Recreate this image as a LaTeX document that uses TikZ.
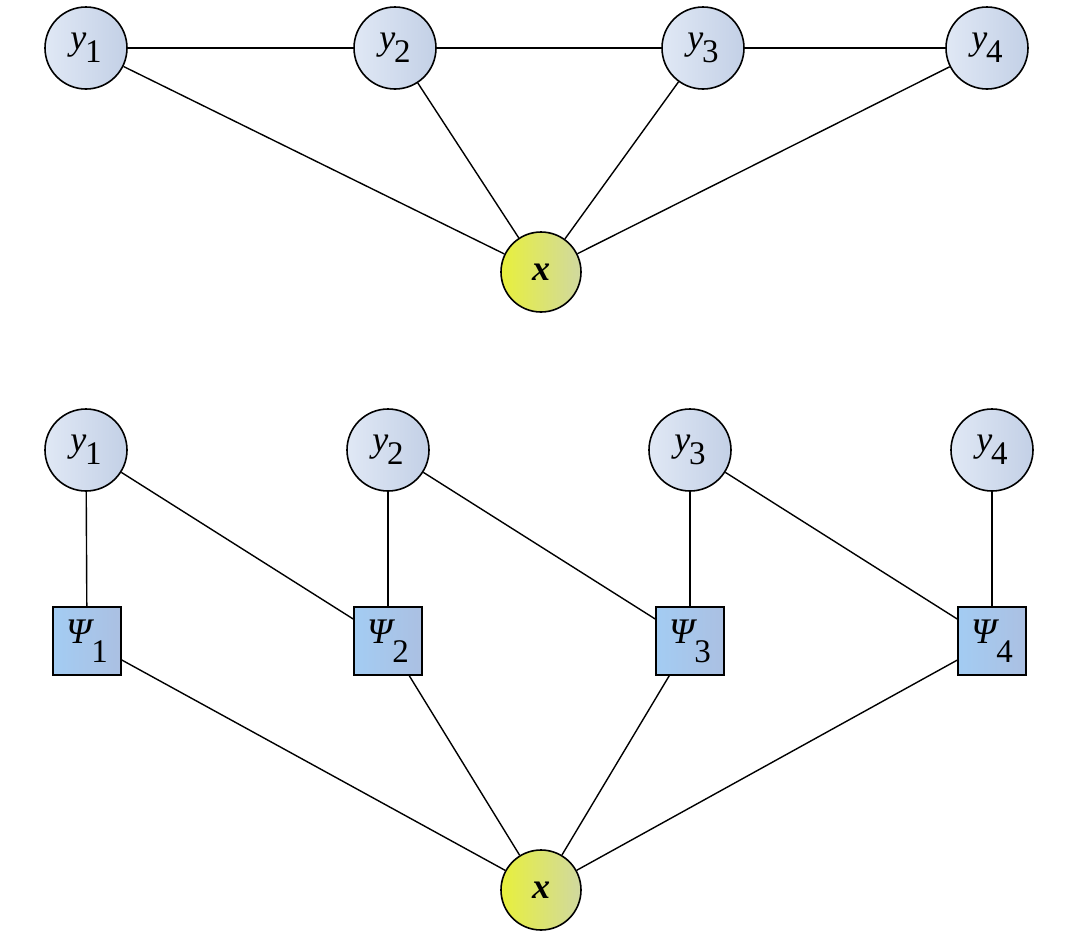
\documentclass[tikz,border=0pt]{standalone}
\usepackage{fontspec}
\setmainfont{Liberation Serif}
\definecolor{cL}{HTML}{E0E8F5}
\definecolor{cR}{HTML}{C3D0E6}
\definecolor{bL}{HTML}{A3CCF3}
\definecolor{bR}{HTML}{ABC0E2}
\definecolor{yL}{HTML}{E8F03C}
\definecolor{yR}{HTML}{D0D8A0}
\newcommand{\yv}[1]{{\fontsize{36}{36}\selectfont\itshape y}\kern-1pt\raisebox{-13pt}{\fontsize{33}{33}\selectfont #1}}
\newcommand{\psiv}[1]{{\fontsize{36}{36}\selectfont\itshape Ψ}\kern0pt\raisebox{-19pt}{\fontsize{33}{33}\selectfont #1}}
\newcommand{\xv}{{\fontsize{36}{36}\selectfont\bfseries\itshape x}}
\begin{document}
\begin{tikzpicture}[x=1pt,y=-1pt,
  var/.style={circle,draw=black,line width=1.6pt,minimum size=82pt,inner sep=0pt,left color=cL,right color=cR},
  obs/.style={circle,draw=black,line width=1.6pt,minimum size=80pt,inner sep=0pt,left color=yL,right color=yR},
  fac/.style={rectangle,draw=black,line width=1.6pt,minimum size=68pt,inner sep=0pt,left color=bL,right color=bR},
  edge/.style={line width=1.4pt,draw=black}]
\useasboundingbox (0,0) rectangle (1080,938);
% top graph
\node[var] (a1) at (86,48) {\yv{1}};
\node[var] (a2) at (395,48) {\yv{2}};
\node[var] (a3) at (703,48) {\yv{3}};
\node[var] (a4) at (987,48) {\yv{4}};
\node[obs] (ax) at (541,272) {\xv};
\draw[edge] (a1) -- (a2);
\draw[edge] (a2) -- (a3);
\draw[edge] (a3) -- (a4);
\foreach \i in {1,2,3,4} \draw[edge] (a\i) -- (ax);
% bottom graph
\node[var] (b1) at (86,450) {\yv{1}};
\node[var] (b2) at (388,450) {\yv{2}};
\node[var] (b3) at (690,450) {\yv{3}};
\node[var] (b4) at (992,450) {\yv{4}};
\node[fac] (p1) at (87,641) {\psiv{1}};
\node[fac] (p2) at (388,641) {\psiv{2}};
\node[fac] (p3) at (690,641) {\psiv{3}};
\node[fac] (p4) at (992,641) {\psiv{4}};
\node[obs] (bx) at (541,890) {\xv};
\foreach \i in {1,2,3,4} \draw[edge] (b\i) -- (p\i);
\draw[edge] (b1) -- (p2);
\draw[edge] (b2) -- (p3);
\draw[edge] (b3) -- (p4);
\foreach \i in {1,2,3,4} \draw[edge] (p\i) -- (bx);
\end{tikzpicture}
\end{document}
